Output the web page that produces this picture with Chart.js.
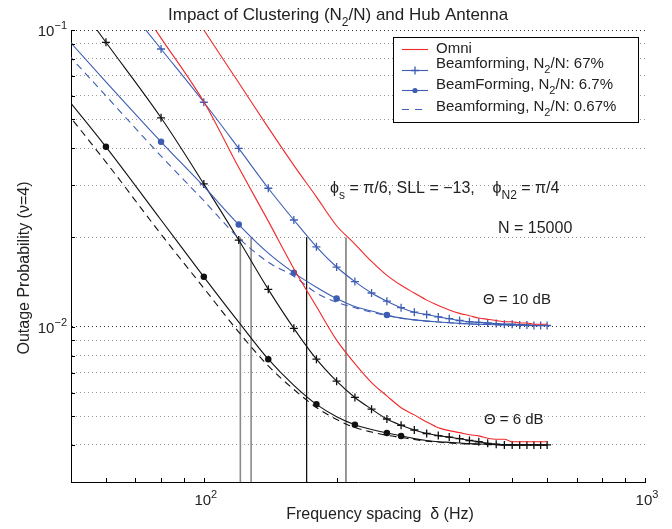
<!DOCTYPE html>
<html>
<head>
<meta charset="utf-8">
<script src="https://cdn.jsdelivr.net/npm/chart.js@4.4.1/dist/chart.umd.min.js"></script>
<style>
  html, body { margin: 0; padding: 0; background: #fff; }
  #wrap { width: 672px; height: 529px; }
</style>
</head>
<body>
<div id="wrap"><canvas id="chart" width="672" height="529"></canvas></div>
<script>
// frequency spacing samples (Hz)
var freqs = [40, 60, 80, 100, 120, 140, 160, 180, 200, 220, 240, 260, 280, 300, 320,
  340, 360, 380, 400, 420, 440, 460, 480, 500, 520, 540, 560, 580, 600];

// Theta = 10 dB family
var omni10 = [null, null, 0.167, 0.100, 0.0664, 0.0469, 0.0350, 0.0274, 0.0219, 0.0190, 0.0166,
  0.0149, 0.0138, 0.0130, 0.0123, 0.0118, 0.0114, 0.0111, 0.0109, 0.0107, 0.0106, 0.0105,
  0.0104, 0.0104, 0.0103, 0.0103, 0.0102, 0.0102, 0.0102];
var bf67_10 = [null, 0.147, 0.0863, 0.0571, 0.0399, 0.0293, 0.0229, 0.0186, 0.0159, 0.0142, 0.0130,
  0.0122, 0.0116, 0.0112, 0.0110, 0.0108, 0.01065, 0.0105, 0.0104, 0.01035, 0.0103, 0.01025,
  0.0102, 0.0102, 0.01015, 0.01015, 0.0101, 0.0101, 0.0101];
var bf6_7_10 = [0.1307, 0.0669, 0.0420, 0.0297, 0.0221, 0.0177, 0.0152, 0.0136, 0.01245, 0.0117, 0.0113,
  0.01095, 0.0107, 0.01055, 0.01045, 0.01038, 0.01032, 0.01027, 0.01023, 0.0102, 0.01018, 0.01016,
  0.01014, 0.01013, 0.01012, 0.01011, 0.0101, 0.0101, 0.0101];
var bf067_10 = [0.116, 0.0600, 0.0376, 0.0266, 0.0199, 0.0165, 0.0148, 0.0130, 0.0121, 0.0116, 0.0112,
  0.0109, 0.0107, 0.01055, 0.01045, 0.01038, 0.01032, 0.01027, 0.01023, 0.0102, 0.01018, 0.01016,
  0.01014, 0.01013, 0.01012, 0.01011, 0.0101, 0.0101, 0.0101];

// Theta = 6 dB family
var omni6 = [null, 0.177, 0.0939, 0.0573, 0.0344, 0.0227, 0.0157, 0.0117, 0.00902, 0.00752, 0.00649,
  0.00585, 0.00534, 0.00505, 0.00478, 0.00457, 0.00447, 0.00440, 0.00433, 0.00429, 0.00421, 0.00418,
  0.00418, 0.00410, 0.00410, 0.00410, 0.00410, 0.00410, 0.00410];
var bf67_6 = [0.208, 0.0909, 0.0506, 0.0303, 0.0196, 0.01337, 0.00988, 0.00778, 0.00656, 0.00578, 0.00528,
  0.00489, 0.00466, 0.00449, 0.00437, 0.00430, 0.00425, 0.00420, 0.00414, 0.00410, 0.00405, 0.00402,
  0.00400, 0.00400, 0.00400, 0.00400, 0.00400, 0.00400, 0.00400];
var bf6_7_6 = [0.0848, 0.0404, 0.0229, 0.01474, 0.01037, 0.00778, 0.00635, 0.00548, 0.00498, 0.00468, 0.00451,
  0.00439, 0.00429, 0.00420, 0.00414, 0.00410, 0.00408, 0.00406, 0.00404, 0.00403, 0.00402, 0.00401,
  0.00400, 0.00400, 0.00400, 0.00400, 0.00400, 0.00400, 0.00400];
var bf067_6 = [0.0763, 0.0359, 0.0205, 0.0135, 0.0096, 0.00738, 0.00615, 0.00535, 0.00487, 0.00458, 0.00442,
  0.00431, 0.00424, 0.00417, 0.00412, 0.00409, 0.00406, 0.00404, 0.00403, 0.00402, 0.00401, 0.00400,
  0.00400, 0.00400, 0.00400, 0.00400, 0.00400, 0.00400, 0.00400];

// where the filled dot markers sit on the 6.7% curves
var blueDotFreqs = [80, 120, 160, 200, 260];
var blackDotFreqs = [60, 100, 140, 180, 220, 260, 280];

// vertical marker lines (Hz), drawn from 0.02 down to the axis
var vlineFreqs = [121, 128, 171, 210];
var vlineTop = 0.02;

// axes
var xMin = 50, xMax = 1000, yMin = 0.003, yMax = 0.1;
var xTickValues = [50, 60, 70, 80, 90, 100, 200, 300, 400, 500, 600, 700, 800, 900, 1000];
var xTickLabels = [[100, "10", "2"], [1000, "10", "3"]];
var yGridValues = [0.004, 0.005, 0.006, 0.007, 0.008, 0.009, 0.01,
  0.02, 0.03, 0.04, 0.05, 0.06, 0.07, 0.08, 0.09, 0.1];
var yTickLabels = [[0.1, "10", "\u22121"], [0.01, "10", "\u22122"]];

var RED = "#f0282a";
var BLUE = "#3d5db3";
var BLACK = "#111111";
var FONT = "'Liberation Sans', Arial, sans-serif";

function pts(vals) {
  return freqs.map(function (f, i) { return { x: f, y: vals[i] }; });
}

function dotRadius(list) {
  return freqs.map(function (f) { return list.indexOf(f) >= 0 ? 2.6 : 0; });
}

function curve(vals, color, opts) {
  var ds = {
    data: pts(vals),
    borderColor: color,
    backgroundColor: color,
    borderWidth: 1.1,
    pointRadius: 0,
    pointBorderWidth: 1.3,
    cubicInterpolationMode: "monotone",
    fill: false
  };
  for (var k in opts) ds[k] = opts[k];
  return ds;
}

var datasets = [
  curve(omni10, RED, {}),
  curve(omni6, RED, {}),
  curve(bf67_10, BLUE, { pointStyle: "cross", pointRadius: 4 }),
  curve(bf6_7_10, BLUE, { pointStyle: "circle", pointRadius: dotRadius(blueDotFreqs) }),
  curve(bf067_10, BLUE, { borderDash: [7, 5] }),
  curve(bf67_6, BLACK, { pointStyle: "cross", pointRadius: 4 }),
  curve(bf6_7_6, BLACK, { pointStyle: "circle", pointRadius: dotRadius(blackDotFreqs) }),
  curve(bf067_6, BLACK, { borderDash: [7, 5] })
];

var vlineColors = ["#8a8a8a", "#8a8a8a", "#111111", "#555555"];
var vlineWidths = [1.6, 1.6, 1, 1.2];
vlineFreqs.forEach(function (f, i) {
  datasets.push({
    data: [{ x: f, y: vlineTop }, { x: f, y: yMin }],
    borderColor: vlineColors[i],
    borderWidth: vlineWidths[i],
    pointRadius: 0,
    fill: false
  });
});

var legendItems = [
  { parts: [["Omni", ""]], color: RED, style: "line" },
  { parts: [["Beamforming, N", ""], ["2", "sub"], ["/N: 67%", ""]], color: BLUE, style: "cross" },
  { parts: [["BeamForming, N", ""], ["2", "sub"], ["/N: 6.7%", ""]], color: BLUE, style: "dot" },
  { parts: [["Beamforming, N", ""], ["2", "sub"], ["/N: 0.67%", ""]], color: BLUE, style: "dash" }
];

function drawRich(ctx, parts, x, y, size, align) {
  function fontOf(p) { return (p[1] ? Math.round(size * 0.72) : size) + "px " + FONT; }
  var w = 0;
  parts.forEach(function (p) { ctx.font = fontOf(p); w += ctx.measureText(p[0]).width; });
  var cx = align === "center" ? x - w / 2 : align === "right" ? x - w : x;
  ctx.textAlign = "left";
  ctx.textBaseline = "alphabetic";
  parts.forEach(function (p) {
    ctx.font = fontOf(p);
    var dy = p[1] === "sub" ? size * 0.35 : p[1] === "sup" ? -size * 0.45 : 0;
    ctx.fillText(p[0], cx, y + dy);
    cx += ctx.measureText(p[0]).width;
  });
}

var decor = {
  id: "decor",
  afterDraw: function (chart) {
    var ctx = chart.ctx;
    var xs = chart.scales.x, ys = chart.scales.y, area = chart.chartArea;
    ctx.save();
    ctx.strokeStyle = "#000";
    ctx.lineWidth = 1;

    // inward tick marks
    xTickValues.forEach(function (v) {
      var px = Math.round(xs.getPixelForValue(v)) + 0.5;
      ctx.beginPath();
      ctx.moveTo(px, area.bottom);
      ctx.lineTo(px, area.bottom - 4);
      ctx.stroke();
    });
    yGridValues.forEach(function (v) {
      var py = Math.round(ys.getPixelForValue(v)) + 0.5;
      ctx.beginPath();
      ctx.moveTo(area.left, py);
      ctx.lineTo(area.left + 4, py);
      ctx.stroke();
    });

    ctx.fillStyle = "#222";
    // tick labels
    xTickLabels.forEach(function (t) {
      var px = xs.getPixelForValue(t[0]);
      drawRich(ctx, [[t[1], ""], [t[2], "sup"]], px + 2, area.bottom + 23, 15, "center");
    });
    yTickLabels.forEach(function (t) {
      var py = ys.getPixelForValue(t[0]);
      drawRich(ctx, [[t[1], ""], [t[2], "sup"]], area.left - 4, py + 6, 15, "right");
    });

    // title and axis titles
    drawRich(ctx, [["Impact of Clustering (N", ""], ["2", "sub"], ["/N) and Hub Antenna", ""]], 168, 20, 17, "left");
    drawRich(ctx, [["Frequency spacing  \u03b4 (Hz)", ""]], 380, 519, 16, "center");
    ctx.save();
    ctx.translate(29, 268);
    ctx.rotate(-Math.PI / 2);
    drawRich(ctx, [["Outage Probability (\u03bd=4)", ""]], 0, 0, 16, "center");
    ctx.restore();

    // annotations
    drawRich(ctx, [["\u03d5", ""], ["s", "sub"], [" = \u03c0/6, SLL = \u221213,    \u03d5", ""], ["N2", "sub"], [" = \u03c0/4", ""]], 330, 193, 16, "left");
    drawRich(ctx, [["N = 15000", ""]], 498, 233, 16, "left");
    drawRich(ctx, [["\u0398 = 10 dB", ""]], 483, 304, 15, "left");
    drawRich(ctx, [["\u0398 = 6 dB", ""]], 484, 424, 15, "left");

    // legend
    ctx.fillStyle = "#fff";
    ctx.fillRect(393.5, 37.5, 245, 85);
    ctx.strokeStyle = "#000";
    ctx.lineWidth = 1;
    ctx.strokeRect(393.5, 37.5, 245, 85);
    var lineYs = [49, 70, 90, 109];
    var textYs = [53, 68, 89, 111];
    legendItems.forEach(function (it, i) {
      var ly = lineYs[i];
      ctx.strokeStyle = it.color;
      ctx.fillStyle = it.color;
      ctx.lineWidth = 1.1;
      ctx.setLineDash(it.style === "dash" ? [7, 6] : []);
      ctx.beginPath();
      ctx.moveTo(402, ly + 0.5);
      ctx.lineTo(428, ly + 0.5);
      ctx.stroke();
      ctx.setLineDash([]);
      if (it.style === "cross") {
        ctx.lineWidth = 1.3;
        ctx.beginPath();
        ctx.moveTo(411, ly + 0.5); ctx.lineTo(419, ly + 0.5);
        ctx.moveTo(415, ly - 3.5); ctx.lineTo(415, ly + 4.5);
        ctx.stroke();
      } else if (it.style === "dot") {
        ctx.beginPath();
        ctx.arc(415, ly + 0.5, 2.6, 0, Math.PI * 2);
        ctx.fill();
      }
      ctx.fillStyle = "#222";
      drawRich(ctx, it.parts, 436, textYs[i], 15, "left");
    });
    ctx.restore();
  }
};

var chart = new Chart(document.getElementById("chart").getContext("2d"), {
  type: "line",
  data: { datasets: datasets },
  options: {
    responsive: false,
    animation: false,
    layout: { padding: { left: 71, top: 30, right: 27, bottom: 47 } },
    plugins: {
      legend: { display: false },
      title: { display: false },
      tooltip: { enabled: false }
    },
    scales: {
      x: {
        type: "logarithmic",
        min: xMin,
        max: xMax,
        ticks: { display: false },
        grid: { display: false, drawTicks: false },
        border: { display: true, color: "#000", width: 1 }
      },
      y: {
        type: "logarithmic",
        min: yMin,
        max: yMax,
        afterBuildTicks: function (scale) {
          scale.ticks = yGridValues.map(function (v) { return { value: v }; });
        },
        ticks: { display: false },
        grid: {
          drawTicks: false,
          lineWidth: 1,
          color: function (c) {
            var v = c.tick ? c.tick.value : 0;
            return (v === 0.1 || v === 0.01) ? "#333" : "#999";
          }
        },
        border: { display: true, color: "#000", width: 1, dash: [1, 3] }
      }
    }
  },
  plugins: [decor]
});
</script>
</body>
</html>
